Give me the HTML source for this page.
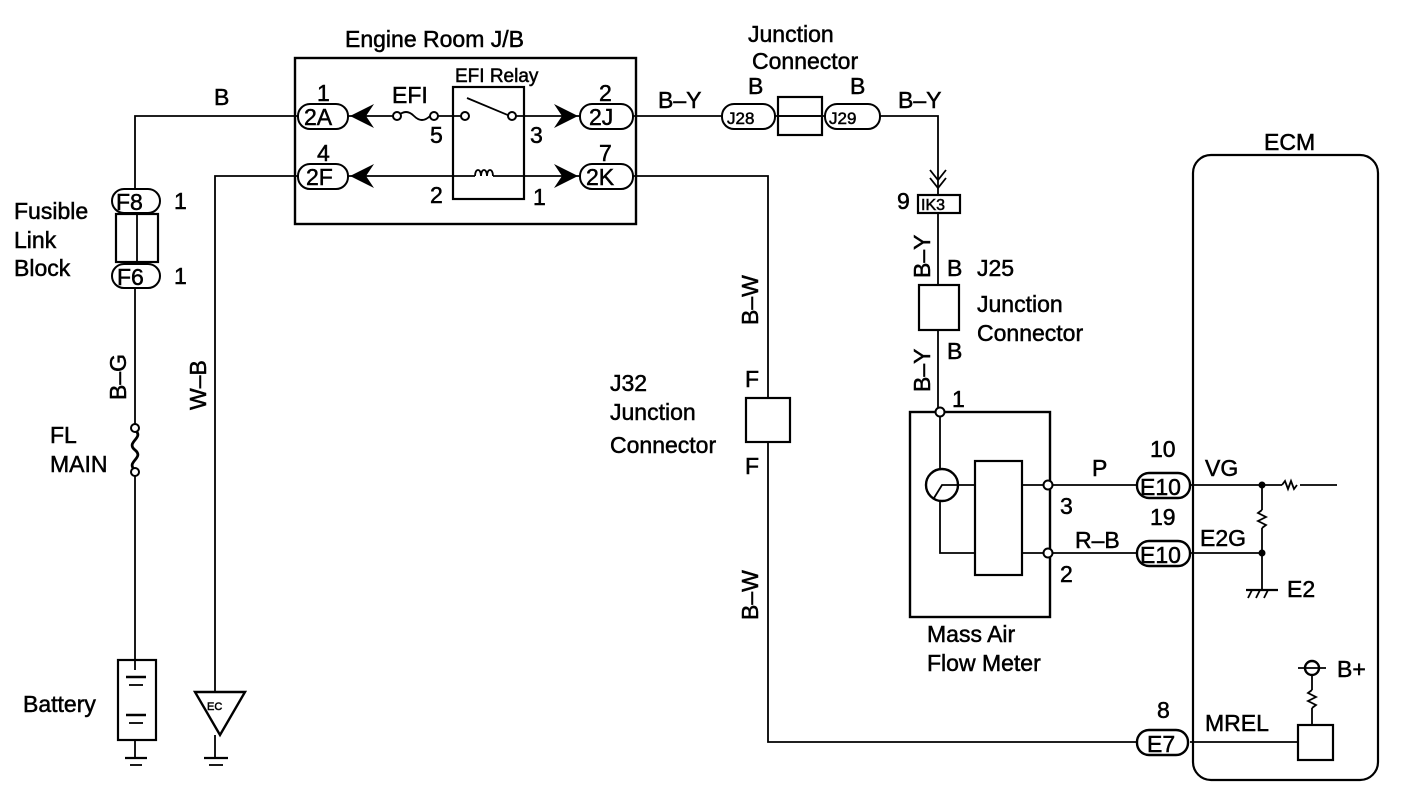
<!DOCTYPE html>
<html><head><meta charset="utf-8"><style>
html,body{margin:0;padding:0;background:#fff;}
svg{display:block;}
text{font-family:"Liberation Sans",Arial,sans-serif;fill:#000;stroke:#000;stroke-width:0.5;}
</style></head><body>
<svg width="1408" height="800" viewBox="0 0 1408 800" xmlns="http://www.w3.org/2000/svg">
<g stroke="#000" fill="none" stroke-width="1.8">
<rect x="295" y="58" width="341" height="166" stroke-width="2.4"/>
<rect x="453" y="87" width="71" height="112" stroke-width="2.2"/>
<polyline points="298,116 135,116 135,190"/>
<line x1="135" y1="288" x2="135" y2="425"/>
<line x1="135" y1="475" x2="135" y2="670"/>
<polyline points="298,176 215,176 215,692"/>
<line x1="215" y1="735" x2="215" y2="758"/>
<line x1="633" y1="116" x2="722" y2="116"/>
<line x1="775" y1="116" x2="825" y2="116"/>
<polyline points="880,116 938,116 938,195"/>
<line x1="938" y1="213" x2="938" y2="285"/>
<line x1="938" y1="330" x2="938" y2="410"/>
<polyline points="633,176 768,176 768,398"/>
<polyline points="768,442 768,742 1137,742"/>
<line x1="348" y1="116" x2="398" y2="116"/>
<path d="M398,116 q8,-8 16,0 q8,8 16,0"/>
<line x1="433" y1="116" x2="463" y2="116"/>
<line x1="467" y1="98" x2="510" y2="116"/>
<line x1="515" y1="116" x2="580" y2="116"/>
<line x1="348" y1="176" x2="475" y2="176"/>
<path d="M475,176 c0,-8 6,-8 6,0 c0,-8 6,-8 6,0 c0,-8 6,-8 6,0"/>
<line x1="493" y1="176" x2="580" y2="176"/>
<rect x="116" y="214" width="42" height="48" stroke-width="2.2"/>
<line x1="137" y1="214" x2="137" y2="262"/>
<path d="M135,430 c10,8 -10,12 0,20 c10,8 -10,12 0,20" stroke-width="2.8"/>
<rect x="118" y="660" width="38" height="80" stroke-width="2.2"/>
<line x1="126" y1="677" x2="146" y2="677" stroke-width="2.5"/>
<line x1="129" y1="685" x2="143" y2="685"/>
<line x1="126" y1="715" x2="146" y2="715" stroke-width="2.5"/>
<line x1="129" y1="723" x2="143" y2="723"/>
<line x1="135" y1="740" x2="135" y2="758"/>
<line x1="125" y1="758" x2="147" y2="758" stroke-width="2.2"/>
<line x1="130" y1="765" x2="142" y2="765"/>
<polygon points="195,692 245,692 220,735" stroke-width="2.4"/>
<line x1="204" y1="758" x2="228" y2="758" stroke-width="2.2"/>
<line x1="209" y1="765" x2="223" y2="765"/>
<rect x="778" y="97" width="44" height="38" stroke-width="2.2"/>
<line x1="778" y1="116" x2="822" y2="116"/>
<rect x="918" y="195" width="42" height="18" stroke-width="2.2"/>
<path d="M930,170 l8,10 l8,-10 M930,178 l8,10 l8,-10"/>
<rect x="919" y="285" width="40" height="45" stroke-width="2.2"/>
<rect x="746" y="398" width="44" height="44" stroke-width="2.2"/>
<rect x="910" y="412" width="140" height="205" stroke-width="2.4"/>
<rect x="975" y="461" width="47" height="114" stroke-width="2.2"/>
<circle cx="942" cy="485" r="16" stroke-width="2.4"/>
<path d="M934,498 l8,-13 l16,0" />
<line x1="940" y1="416" x2="940" y2="469"/>
<polyline points="940,501 940,553 975,553"/>
<line x1="958" y1="485" x2="975" y2="485"/>
<line x1="1022" y1="485" x2="1048" y2="485"/>
<line x1="1022" y1="553" x2="1048" y2="553"/>
<line x1="1048" y1="485" x2="1137" y2="485"/>
<line x1="1048" y1="553" x2="1137" y2="553"/>
<rect x="1193" y="155" width="185" height="625" rx="18" stroke-width="2.2"/>
<line x1="1190" y1="485" x2="1282" y2="485"/>
<path d="M1282,485 l3,-4 l3,8 l3,-8 l3,8 l3,-4"/>
<line x1="1300" y1="485" x2="1337" y2="485"/>
<line x1="1262" y1="485" x2="1262" y2="510"/>
<path d="M1262,510 l-4,3 l8,4 l-8,4 l8,4 l-4,3"/>
<line x1="1262" y1="528" x2="1262" y2="590"/>
<line x1="1190" y1="553" x2="1262" y2="553"/>
<line x1="1246" y1="590" x2="1278" y2="590" stroke-width="2.2"/>
<path d="M1248,598 l4,-8 M1256,598 l4,-8 M1264,598 l4,-8"/>
<circle cx="1312" cy="668" r="7" stroke-width="2.4"/>
<line x1="1298" y1="668" x2="1326" y2="668"/>
<line x1="1312" y1="675" x2="1312" y2="690"/>
<path d="M1312,690 l-4,3 l8,4 l-8,4 l8,4 l-4,3"/>
<line x1="1312" y1="708" x2="1312" y2="725"/>
<rect x="1298" y="725" width="35" height="35" stroke-width="2.2"/>
<line x1="1190" y1="742" x2="1298" y2="742"/>
</g>
<g fill="#000">
<polygon points="350,116 374,104 366,116 374,128"/>
<polygon points="350,176 374,164 366,176 374,188"/>
<polygon points="578,116 554,104 562,116 554,128"/>
<polygon points="578,176 554,164 562,176 554,188"/>
<circle cx="1262" cy="485" r="3.5"/>
<circle cx="1262" cy="553" r="3.5"/>
</g>
<g fill="#fff" stroke="#000" stroke-width="2">
<circle cx="397" cy="116" r="4"/><circle cx="434" cy="116" r="4"/>
<circle cx="465" cy="116" r="4"/><circle cx="512" cy="116" r="4"/>
<circle cx="135" cy="428" r="4"/><circle cx="135" cy="472" r="4"/>
<circle cx="940" cy="412" r="4.5"/>
<circle cx="1048" cy="485" r="4.5"/><circle cx="1048" cy="553" r="4.5"/>
<rect x="298" y="104" width="50" height="25" rx="12"/>
<rect x="298" y="164" width="50" height="25" rx="12"/>
<rect x="580" y="104" width="53" height="25" rx="12"/>
<rect x="580" y="164" width="53" height="25" rx="12"/>
<rect x="112" y="189" width="48" height="24" rx="12"/>
<rect x="112" y="264" width="48" height="24" rx="12"/>
<rect x="722" y="104" width="53" height="25" rx="12"/>
<rect x="825" y="104" width="55" height="25" rx="12"/>
<rect x="1137" y="473" width="53" height="25" rx="12" stroke-width="2.4"/>
<rect x="1137" y="541" width="53" height="25" rx="12" stroke-width="2.4"/>
<rect x="1137" y="730" width="51" height="25" rx="12" stroke-width="2.4"/>
</g>
<g font-size="23">
<text x="345" y="47">Engine Room J/B</text>
<text x="748" y="42">Junction</text>
<text x="752" y="69">Connector</text>
<text x="214" y="105">B</text>
<text x="317" y="101">1</text><text x="317" y="161">4</text>
<text x="304" y="125" font-size="23">2A</text>
<text x="306" y="185" font-size="23">2F</text>
<text x="589" y="125" font-size="23">2J</text>
<text x="586" y="185" font-size="23">2K</text>
<text x="599" y="101">2</text><text x="599" y="161">7</text>
<text x="392" y="103">EFI</text>
<text x="455" y="82" font-size="19">EFI Relay</text>
<text x="430" y="143">5</text><text x="530" y="143">3</text>
<text x="430" y="203">2</text><text x="533" y="205">1</text>
<text x="658" y="108">B–Y</text>
<text x="898" y="108">B–Y</text>
<text x="748" y="94">B</text><text x="850" y="94">B</text>
<text x="727" y="124" font-size="17">J28</text>
<text x="829" y="124" font-size="17">J29</text>
<text x="897" y="209">9</text>
<text x="921" y="210" font-size="16">IK3</text>
<text x="116" y="210" font-size="23">F8</text>
<text x="117" y="285" font-size="23">F6</text>
<text x="174" y="209">1</text><text x="174" y="284">1</text>
<text x="14" y="219">Fusible</text>
<text x="14" y="248">Link</text>
<text x="14" y="276">Block</text>
<text x="50" y="443">FL</text>
<text x="50" y="472">MAIN</text>
<text x="23" y="712">Battery</text>
<text x="207" y="710" font-size="11">EC</text>
<text x="947" y="276">B</text><text x="947" y="359">B</text>
<text x="977" y="276">J25</text>
<text x="977" y="312">Junction</text>
<text x="977" y="341">Connector</text>
<text x="745" y="387">F</text><text x="745" y="474">F</text>
<text x="610" y="391">J32</text>
<text x="610" y="420">Junction</text>
<text x="610" y="453">Connector</text>
<text x="952" y="407">1</text>
<text x="1060" y="514">3</text><text x="1060" y="582">2</text>
<text x="927" y="642">Mass Air</text>
<text x="927" y="671">Flow Meter</text>
<text x="1092" y="476">P</text>
<text x="1075" y="548">R–B</text>
<text x="1150" y="457">10</text>
<text x="1150" y="525">19</text>
<text x="1157" y="718">8</text>
<text x="1140" y="495" font-size="23">E10</text>
<text x="1140" y="563" font-size="23">E10</text>
<text x="1147" y="752" font-size="23">E7</text>
<text x="1205" y="476">VG</text>
<text x="1200" y="546">E2G</text>
<text x="1287" y="597">E2</text>
<text x="1337" y="677">B+</text>
<text x="1205" y="731">MREL</text>
<text x="1264" y="150">ECM</text>
</g>
<g font-size="23">
<text transform="translate(126,400) rotate(-90)">B–G</text>
<text transform="translate(206,410) rotate(-90)">W–B</text>
<text transform="translate(758,325) rotate(-90)">B–W</text>
<text transform="translate(758,620) rotate(-90)">B–W</text>
<text transform="translate(930,278) rotate(-90)">B–Y</text>
<text transform="translate(930,392) rotate(-90)">B–Y</text>
</g>
</svg>
</body></html>
